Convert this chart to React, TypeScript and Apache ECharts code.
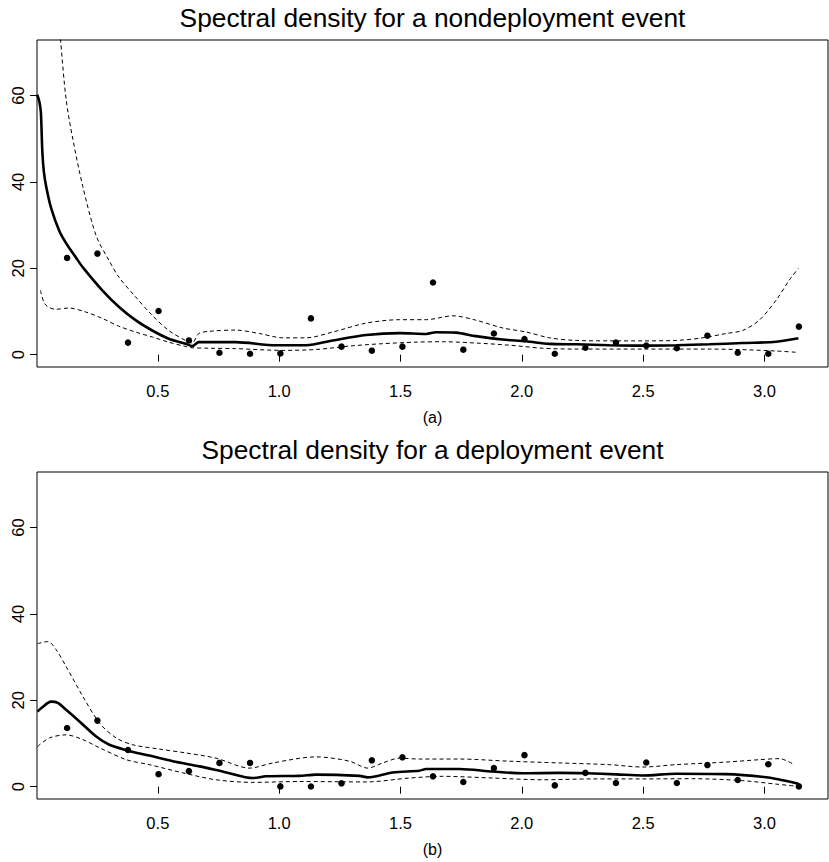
import React, { useEffect, useRef } from "react";
import * as echarts from "echarts";

// Fourier frequencies (k*pi/25, k = 1..25)
const freqs = [0.126, 0.251, 0.377, 0.503, 0.628, 0.754, 0.880, 1.005, 1.131, 1.257, 1.382, 1.508, 1.634, 1.759, 1.885, 2.011, 2.136, 2.262, 2.388, 2.513, 2.639, 2.765, 2.890, 3.016, 3.142];

// Panel (a): nondeployment event
const periodogramA = [22.4, 23.4, 2.8, 10.1, 3.3, 0.46, 0.23, 0.3, 8.4, 1.86, 0.93, 1.86, 16.7, 1.16, 4.9, 3.6, 0.23, 1.6, 2.8, 2.1, 1.5, 4.4, 0.46, 0.23, 6.5];
const estimateA = [[0.003, 60.2], [0.012, 58.5], [0.018, 56], [0.024, 47], [0.03, 42.5], [0.04, 38.9], [0.06, 34.0], [0.095, 28.5], [0.122, 25.8], [0.161, 22.6], [0.191, 20.2], [0.271, 14.9], [0.339, 11.1], [0.408, 8.0], [0.477, 5.6], [0.545, 3.7], [0.614, 2.55], [0.641, 2.0], [0.669, 2.9], [0.82, 2.9], [0.988, 2.2], [1.111, 2.2], [1.221, 3.3], [1.358, 4.55], [1.496, 5.0], [1.606, 4.8], [1.647, 5.2], [1.729, 5.1], [1.81, 4.3], [1.92, 3.5], [2.018, 3.1], [2.114, 2.5], [2.224, 2.4], [2.361, 2.2], [2.498, 2.1], [2.636, 2.2], [2.773, 2.4], [2.91, 2.7], [3.048, 3.0], [3.14, 3.8]];
const upperA = [[0.092, 78], [0.099, 72.9], [0.122, 59.1], [0.15, 49.8], [0.191, 38.9], [0.246, 27.5], [0.298, 21.9], [0.339, 18.0], [0.408, 13.4], [0.477, 9.1], [0.545, 5.6], [0.614, 3.3], [0.641, 2.7], [0.669, 4.9], [0.71, 5.4], [0.82, 5.7], [0.919, 4.9], [1.015, 3.9], [1.111, 3.9], [1.221, 5.25], [1.358, 7.3], [1.496, 8.1], [1.606, 8.1], [1.715, 9.0], [1.81, 8.0], [1.92, 6.2], [2.018, 5.25], [2.114, 3.9], [2.224, 3.3], [2.361, 3.2], [2.498, 3.2], [2.636, 3.3], [2.745, 3.9], [2.842, 4.9], [2.91, 5.6], [2.979, 8.0], [3.048, 12.6], [3.103, 17.3], [3.14, 20.0]];
const lowerA = [[0.016, 14.9], [0.03, 12.2], [0.044, 11.2], [0.078, 10.5], [0.133, 10.8], [0.202, 9.9], [0.271, 8.4], [0.339, 6.6], [0.408, 5.25], [0.477, 4.1], [0.545, 2.9], [0.614, 1.9], [0.641, 1.6], [0.71, 1.5], [0.82, 1.4], [1.015, 1.0], [1.152, 1.2], [1.29, 2.0], [1.427, 2.55], [1.564, 2.9], [1.674, 3.0], [1.81, 2.7], [1.949, 2.2], [2.086, 1.5], [2.224, 1.3], [2.5, 1.3], [2.773, 1.3], [2.91, 1.16], [3.048, 0.85], [3.14, 0.53]];

// Panel (b): deployment event
const periodogramB = [13.6, 15.3, 8.5, 2.9, 3.6, 5.5, 5.5, 0.07, 0.05, 0.77, 6.1, 6.8, 2.4, 1.08, 4.3, 7.3, 0.3, 3.2, 0.85, 5.6, 0.85, 5.0, 1.55, 5.2, 0.07];
const estimateB = [[0.004, 17.4], [0.02, 18.2], [0.06, 19.7], [0.088, 19.4], [0.122, 17.8], [0.177, 15.1], [0.246, 11.6], [0.3, 9.7], [0.374, 8.4], [0.465, 7.2], [0.562, 5.9], [0.672, 4.7], [0.782, 3.3], [0.891, 2.0], [0.946, 2.4], [1.084, 2.5], [1.152, 2.8], [1.331, 2.5], [1.365, 2.15], [1.468, 3.3], [1.578, 3.7], [1.606, 4.1], [1.743, 4.1], [1.88, 3.5], [2.004, 3.1], [2.155, 3.2], [2.265, 3.1], [2.389, 2.85], [2.498, 2.6], [2.636, 3.0], [2.842, 2.9], [3.007, 2.2], [3.075, 1.5], [3.14, 0.7]];
const upperB = [[0.004, 33.1], [0.047, 33.6], [0.081, 31.7], [0.122, 27.8], [0.191, 20.9], [0.26, 14.7], [0.328, 11.3], [0.397, 9.7], [0.507, 8.7], [0.617, 7.8], [0.74, 6.6], [0.878, 4.3], [0.974, 5.5], [1.152, 6.9], [1.29, 5.9], [1.365, 4.3], [1.427, 5.5], [1.496, 6.6], [1.578, 6.4], [1.743, 6.4], [1.949, 5.9], [2.155, 5.5], [2.361, 5.1], [2.498, 4.55], [2.636, 5.1], [2.842, 5.7], [2.979, 6.25], [3.061, 6.5], [3.123, 5.1]];
const lowerB = [[0.004, 9.3], [0.054, 11.3], [0.122, 12.0], [0.191, 10.9], [0.26, 9.0], [0.37, 6.25], [0.465, 5.1], [0.603, 3.2], [0.74, 1.6], [0.891, 1.0], [1.084, 1.2], [1.358, 1.1], [1.537, 2.0], [1.674, 2.4], [1.88, 2.0], [2.086, 1.6], [2.292, 1.8], [2.498, 1.8], [2.704, 1.85], [2.91, 1.4], [3.048, 0.6], [3.14, 0.07]];

const titles = ["Spectral density for a nondeployment event", "Spectral density for a deployment event"];
const panelLabels = ["(a)", "(b)"];
const xTicks = [0.5, 1.0, 1.5, 2.0, 2.5, 3.0];
const yTicks = [0, 20, 40, 60];
const xRange = [0.002, 3.262];
const yRange = [-2.85, 72.85];

const FONT = "'Liberation Sans', Arial, Helvetica, sans-serif";

export default function App() {
  const ref = useRef<HTMLDivElement>(null);
  useEffect(() => {
    if (!ref.current) return;
    const chart = echarts.init(ref.current, null, { renderer: "svg" });
    const gridTops = [40, 472];
    const gridH = 327;
    const grids = gridTops.map((t) => ({
      left: 37,
      top: t,
      width: 791,
      height: gridH,
      show: true,
      borderColor: "#000",
      borderWidth: 1,
      backgroundColor: "transparent",
    }));
    const xAxes = [0, 1].map((i) => ({
      type: "value",
      gridIndex: i,
      min: xRange[0],
      max: xRange[1],
      axisLine: { show: false },
      splitLine: { show: false },
      axisTick: { show: true, length: 7, lineStyle: { color: "#000", width: 1 }, customValues: xTicks },
      axisLabel: {
        customValues: xTicks,
        color: "#000",
        fontSize: 16.5,
        fontFamily: FONT,
        margin: 15,
        formatter: (v: number) => v.toFixed(1),
      },
    }));
    const yAxes = [0, 1].map((i) => ({
      type: "value",
      gridIndex: i,
      min: yRange[0],
      max: yRange[1],
      axisLine: { show: false },
      splitLine: { show: false },
      axisTick: { show: true, length: 7, lineStyle: { color: "#000", width: 1 }, customValues: yTicks },
      axisLabel: {
        customValues: yTicks,
        color: "#000",
        fontSize: 16.5,
        fontFamily: FONT,
        rotate: 90,
        margin: 11,
      },
    }));
    const lineSeries = (data: number[][], idx: number, dashed: boolean) => ({
      type: "line",
      xAxisIndex: idx,
      yAxisIndex: idx,
      data,
      showSymbol: false,
      symbol: "none",
      smooth: 0.3,
      clip: true,
      lineStyle: dashed
        ? { color: "#000", width: 1, type: [4, 3] }
        : { color: "#000", width: 2.6 },
      silent: true,
      z: 3,
    });
    const pointSeries = (vals: number[], idx: number) => ({
      type: "scatter",
      xAxisIndex: idx,
      yAxisIndex: idx,
      data: freqs.map((f, k) => [f, vals[k]]),
      symbol: "circle",
      symbolSize: 6.5,
      itemStyle: { color: "#000", opacity: 1 },
      clip: false,
      z: 4,
    });
    const centerX = 37 + 791 / 2;
    const option = {
      animation: false,
      grid: grids,
      xAxis: xAxes,
      yAxis: yAxes,
      series: [
        pointSeries(periodogramA, 0),
        lineSeries(estimateA, 0, false),
        lineSeries(upperA, 0, true),
        lineSeries(lowerA, 0, true),
        pointSeries(periodogramB, 1),
        lineSeries(estimateB, 1, false),
        lineSeries(upperB, 1, true),
        lineSeries(lowerB, 1, true),
      ],
      graphic: [0, 1].flatMap((i) => [
        {
          type: "text",
          x: centerX,
          y: gridTops[i] - 22,
          style: {
            text: titles[i],
            fill: "#000",
            font: `26.3px ${FONT}`,
            textAlign: "center",
            textVerticalAlign: "middle",
          },
        },
        {
          type: "text",
          x: centerX,
          y: gridTops[i] + gridH + 50,
          style: {
            text: panelLabels[i],
            fill: "#000",
            font: `16px ${FONT}`,
            textAlign: "center",
            textVerticalAlign: "middle",
          },
        },
      ]),
    };
    chart.setOption(option as any);
    return () => chart.dispose();
  }, []);
  return (
    <div
      ref={ref}
      style={{ position: "absolute", left: 0, top: 0, width: 829, height: 862, background: "#fff" }}
    />
  );
}
